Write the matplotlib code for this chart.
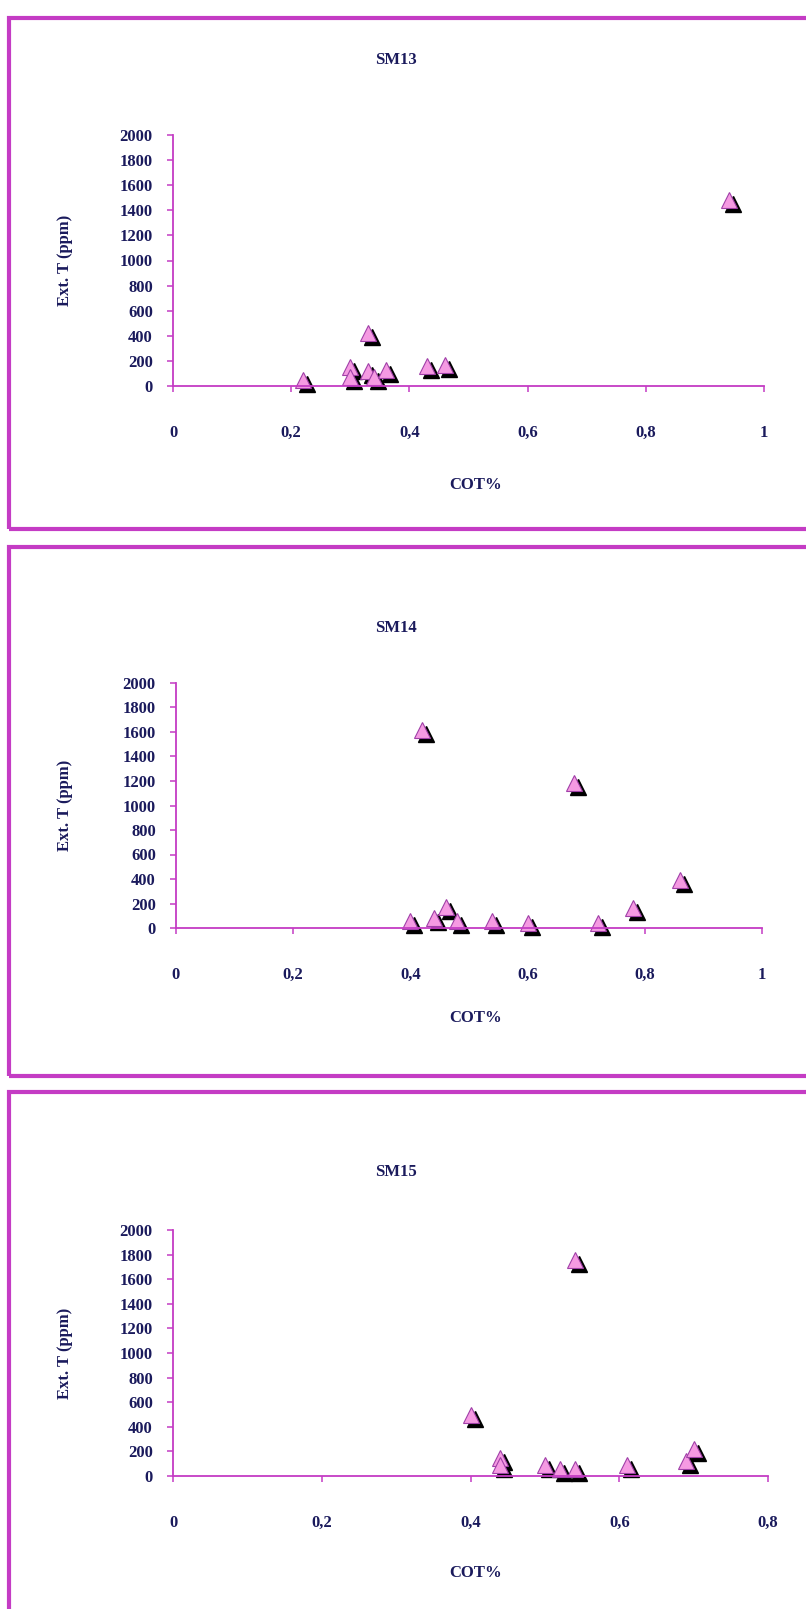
import matplotlib
matplotlib.use("Agg")
import matplotlib.pyplot as plt
from matplotlib.patches import Rectangle
from matplotlib.transforms import offset_copy
from matplotlib.ticker import FuncFormatter

# data
sm13_cot = [0.22, 0.30, 0.30, 0.33, 0.33, 0.34, 0.36, 0.43, 0.46, 0.94]
sm13_ext = [50, 150, 70, 420, 120, 70, 130, 160, 170, 1480]

sm14_cot = [0.40, 0.42, 0.44, 0.46, 0.48, 0.54, 0.60, 0.68, 0.72, 0.78, 0.86]
sm14_ext = [60, 1620, 80, 170, 60, 60, 40, 1180, 40, 160, 390]

sm15_cot = [0.40, 0.44, 0.44, 0.50, 0.52, 0.54, 0.54, 0.61, 0.69, 0.70]
sm15_ext = [500, 150, 90, 90, 60, 60, 1760, 90, 120, 220]

titles = ["SM13", "SM14", "SM15"]
x_max = [1.0, 1.0, 0.8]
y_ticks = list(range(0, 2001, 200))

W, H = 806, 1609
NAVY = "#1a1a5c"
MAG = "#c43cc4"
PINK = "#f59ae2"
FAM = "Liberation Serif"
FS = 12
font = dict(family=FAM, weight="bold", color=NAVY)

# pixel layout of each panel:
# (axis left, axis right, y of 2000, y of 0, title y, xlabel y, border top, border bottom)
layout = [
    (173, 764, 135, 386, 60, 485, 18, 529),
    (176, 762, 683, 928, 628, 1018, 547, 1076),
    (173, 768, 1230, 1476, 1172, 1573, 1092, 1640),
]

fig = plt.figure(figsize=(W / 100, H / 100), dpi=100)

series = [(sm13_cot, sm13_ext), (sm14_cot, sm14_ext), (sm15_cot, sm15_ext)]

for i, (xs, ys) in enumerate(series):
    xl, xr, yt, yb, ty, lx, bt, bb = layout[i]

    # frame around the panel
    fig.add_artist(Rectangle((9 / W, 1 - bb / H), (W + 20) / W, (bb - bt) / H,
                             transform=fig.transFigure, fill=False, lw=3, ec=MAG))

    ax = fig.add_axes([xl / W, 1 - yb / H, (xr - xl) / W, (yb - yt) / H])
    ax.set_facecolor("none")

    shadow = offset_copy(ax.transData, fig=fig, x=4, y=-4, units="dots")
    ax.plot(xs, ys, "^", ms=11, color="black", transform=shadow, clip_on=False)
    ax.plot(xs, ys, "^", ms=11, mfc=PINK, mec="#a040a8", mew=0.8, clip_on=False)

    ax.set_xlim(0, x_max[i])
    ax.set_ylim(0, 2000)
    ax.set_xticks([v / 10 for v in range(0, int(x_max[i] * 10) + 1, 2)])
    ax.set_yticks(y_ticks)
    ax.xaxis.set_major_formatter(FuncFormatter(lambda v, p: ("%g" % v).replace(".", ",")))

    for s in ["top", "right"]:
        ax.spines[s].set_visible(False)
    for s in ["left", "bottom"]:
        ax.spines[s].set_color(MAG)
        ax.spines[s].set_linewidth(1.3)

    ax.tick_params(axis="both", colors=MAG, length=4, width=1.1, direction="out")
    ax.tick_params(axis="x", pad=24)
    ax.tick_params(axis="y", pad=10.5)
    for lab in ax.get_xticklabels() + ax.get_yticklabels():
        lab.set_fontfamily(FAM)
        lab.set_fontweight("bold")
        lab.set_color(NAVY)
        lab.set_fontsize(FS)

    fig.text(396 / W, 1 - ty / H, titles[i], ha="center", va="center", fontsize=FS, **font)
    fig.text(476 / W, 1 - lx / H, "COT%", ha="center", va="center", fontsize=FS, **font)
    fig.text(65 / W, 1 - (yt + yb) / 2 / H, "Ext. T (ppm)", ha="center", va="center",
             rotation=90, fontsize=FS, **font)

fig.savefig("out.png", dpi=100, facecolor="white")
